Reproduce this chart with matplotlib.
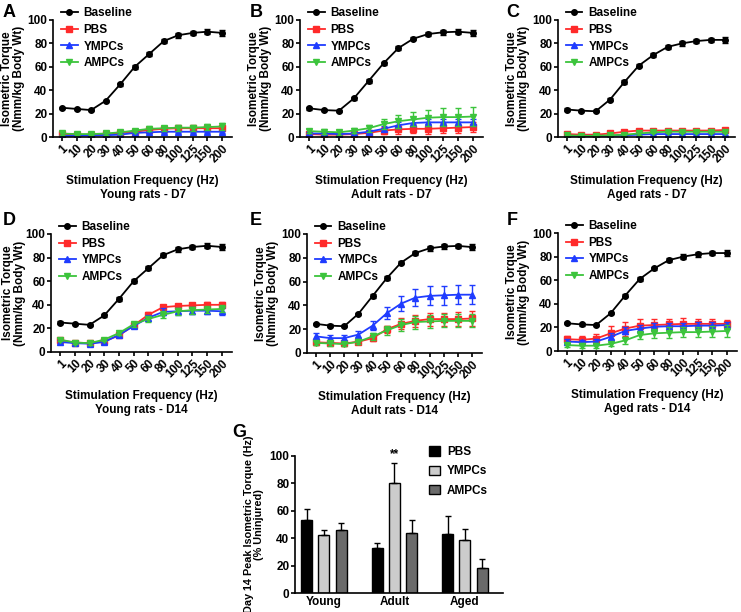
import matplotlib
matplotlib.use('Agg')
from matplotlib import pyplot as plt
import numpy as np

plt.rcParams['font.family'] = ['Liberation Sans', 'DejaVu Sans']
plt.rcParams['font.weight'] = 'bold'
plt.rcParams['axes.labelweight'] = 'bold'
plt.rcParams['font.size'] = 8.5

# Frecuencias de estimulacion (Hz)
frecuencias = ['1', '10', '20', '30', '40', '50', '60', '80', '100', '125', '150', '200']

# Curvas basales (sin lesion)
base_joven = [25, 24, 23, 31, 45, 60, 71, 82, 87, 89, 90, 89]
base_adulto = [24.5, 23, 22.5, 33, 48, 63, 76, 84, 88, 89.5, 90, 89]
base_viejo = [23.5, 22.5, 22, 32, 47, 61, 70, 77, 80, 82, 83, 83]
base_err = [1, 1, 1, 1, 1.5, 1.5, 1.5, 1.5, 2, 2, 2, 2.5]

# Panel A - jovenes D7
a_pbs = [2.5, 2, 2, 2.5, 3.5, 4.5, 6, 7, 7.5, 7.5, 7.5, 7.5]
a_pbs_err = [1, 1, 1, 1, 1, 1.5, 1.5, 2, 2, 2, 2, 2.5]
a_ympc = [1, 1, 1.5, 1.5, 2, 3.5, 4, 4.5, 4.5, 4.5, 4.5, 4.5]
a_ympc_err = [1, 1, 1, 1, 1, 1, 1, 1, 1, 1, 1, 1]
a_ampc = [3, 2.5, 2.5, 3, 4, 5.5, 7, 7.5, 8, 8, 8.5, 9]
a_ampc_err = [1, 1, 1, 1, 1.5, 1.5, 2, 2, 2.5, 2.5, 2.5, 3]

# Panel B - adultos D7
b_pbs = [2.5, 2, 2, 2.5, 3.5, 5.5, 6.5, 7, 7, 7.5, 8, 8.5]
b_pbs_err = [1, 1, 1, 1, 2, 3, 4, 4, 4.5, 4.5, 4.5, 4.5]
b_ympc = [3, 3, 2.5, 3, 4.5, 7, 10, 12, 12.5, 12.5, 12.5, 12.5]
b_ympc_err = [1, 1, 1, 1, 1.5, 2, 2.5, 3, 3, 3, 3, 3]
b_ampc = [5, 4.5, 4, 5.5, 7.5, 11, 13.5, 15, 16.5, 17, 17, 17.5]
b_ampc_err = [2, 2, 2, 2, 3, 4.5, 5.5, 6, 7, 7.5, 7.5, 8]

# Panel C - viejos D7
c_pbs = [2.5, 2, 2, 3, 4.5, 5.5, 5.5, 5.5, 5.5, 5.5, 5.5, 6]
c_pbs_err = [1, 1, 1, 1, 1, 1, 1, 1, 1, 1.5, 1.5, 1.5]
c_ympc = [1, 1, 1, 1, 1.5, 2, 2.5, 2.5, 2.5, 2.5, 2.5, 2.5]
c_ympc_err = [0.5, 0.5, 0.5, 0.5, 0.5, 1, 1, 1, 1, 1, 1, 1]
c_ampc = [1.5, 1, 1, 1.5, 2, 3, 4, 4.5, 4.5, 4.5, 4.5, 4.5]
c_ampc_err = [0.5, 0.5, 0.5, 0.5, 1, 1, 1, 1, 1, 1, 1, 1]

# Panel D - jovenes D14
d_pbs = [10, 8, 7.5, 9, 14, 22.5, 31.5, 38, 39, 39.5, 40, 40]
d_pbs_err = [1.5, 1.5, 1.5, 1.5, 1.5, 2, 2, 2, 2, 2, 2, 2]
d_ympc = [8.5, 7.5, 7, 8.5, 14.5, 22, 29, 34, 34.5, 35, 35, 34.5]
d_ympc_err = [1.5, 1.5, 1.5, 1.5, 2, 2, 2.5, 3, 3, 3, 3, 3]
d_ampc = [10.5, 8, 7.5, 10.5, 16, 23.5, 28, 31.5, 34.5, 35.5, 36, 36.5]
d_ampc_err = [1.5, 1.5, 1.5, 1.5, 2, 2, 2.5, 3, 3, 3, 3, 3]

# Panel E - adultos D14
e_pbs = [9, 8.5, 8, 9.5, 12.5, 20, 24.5, 27, 28.5, 28.5, 28.5, 29]
e_pbs_err = [2, 2, 2, 2, 2.5, 3, 4.5, 5, 5.5, 5.5, 6, 6]
e_ympc = [14, 12.5, 12.5, 15.5, 23, 33.5, 41.5, 46.5, 48, 48.5, 49, 49]
e_ympc_err = [3, 3, 3, 3, 4, 5, 6, 7, 8, 8, 8, 8]
e_ampc = [8.5, 8, 7.5, 9.5, 14, 19, 23.5, 26, 26.5, 27, 27, 27]
e_ampc_err = [2, 2, 2, 2, 3, 4, 5, 5.5, 5.5, 5.5, 5.5, 5.5]

# Panel F - viejos D14
f_pbs = [10, 9.5, 10.5, 15, 19, 21.5, 22, 22.5, 23, 23, 23, 23]
f_pbs_err = [3, 3, 3.5, 6, 6, 5.5, 5, 5, 5, 4.5, 4.5, 3]
f_ympc = [8, 7.5, 8, 12, 17, 19, 20.5, 21, 21, 21.5, 21.5, 22]
f_ympc_err = [2, 2, 2, 3, 3, 3, 3, 3, 3, 3, 3, 3]
f_ampc = [5, 4.5, 4.5, 6, 9, 13.5, 15, 15.5, 16, 16, 16.5, 17]
f_ampc_err = [2, 2, 2, 2, 3, 3.5, 4, 4.5, 4.5, 4.5, 4.5, 5]

# Panel G - pico de torque dia 14 (% sin lesion)
grupos = ['Young', 'Adult', 'Aged']
g_pbs = [53.5, 33, 43]
g_pbs_err = [7.5, 3.5, 13]
g_ympc = [42.5, 80, 38.5]
g_ympc_err = [3.5, 15, 8.5]
g_ampc = [46, 43.5, 18]
g_ampc_err = [5, 9.5, 6.5]

nombres = ['Baseline', 'PBS', 'YMPCs', 'AMPCs']
colores = ['black', '#ff2a2a', '#1f3cff', '#3cc43c']
marcadores = ['o', 's', '^', 'v']

fig = plt.figure(figsize=(7.41, 6.12), dpi=100)
W, H = 741.0, 612.0


def caja(x0, x1, y0, y1):
    # convierte pixeles a fraccion de figura
    return [x0 / W, 1 - y1 / H, (x1 - x0) / W, (y1 - y0) / H]


def letra_panel(x, y, letra):
    fig.text(x / W, 1 - y / H, letra, fontsize=13, fontweight='bold', va='top')


def panel_curvas(px, titulo, base, datos, pad_y=2):
    ax = fig.add_axes(caja(*px))
    x = np.arange(len(frecuencias))
    series = [(base, base_err)] + datos
    lineas = []
    for i, (vals, err) in enumerate(series):
        ax.errorbar(x, vals, yerr=err, fmt='none', ecolor=colores[i],
                    elinewidth=1, capsize=2, capthick=1)
        l, = ax.plot(x, vals, color=colores[i], marker=marcadores[i], ms=4,
                     lw=1.3, label=nombres[i])
        lineas.append(l)
    ax.set_xlim(-0.62, 11.69)
    ax.set_ylim(0, 100)
    ax.set_yticks([0, 20, 40, 60, 80, 100])
    ax.set_xticks(x)
    ax.set_xticklabels(frecuencias, rotation=45, ha='right', rotation_mode='anchor')
    ax.spines['top'].set_visible(False)
    ax.spines['right'].set_visible(False)
    ax.spines['left'].set_linewidth(1.2)
    ax.spines['bottom'].set_linewidth(1.2)
    ax.tick_params(width=1.2, length=3, labelsize=8.5, pad=1)
    ax.set_ylabel('Isometric Torque\n(Nmm/kg Body Wt)', labelpad=pad_y, linespacing=1.0)
    ax.set_xlabel('Stimulation Frequency (Hz)\n' + titulo, labelpad=7, linespacing=1.25)
    ax.legend(handles=lineas, loc='upper left', bbox_to_anchor=(0.045, 1.11),
              frameon=False, borderpad=0, borderaxespad=0, handlelength=1.4,
              handletextpad=0.5, labelspacing=0.4)
    return ax


panel_curvas((53, 232, 20, 137), 'Young rats - D7', base_joven,
             [(a_pbs, a_pbs_err), (a_ympc, a_ympc_err), (a_ampc, a_ampc_err)])
panel_curvas((300, 483, 20, 137), 'Adult rats - D7', base_adulto,
             [(b_pbs, b_pbs_err), (b_ympc, b_ympc_err), (b_ampc, b_ampc_err)])
panel_curvas((558, 735, 20, 137), 'Aged rats - D7', base_viejo,
             [(c_pbs, c_pbs_err), (c_ympc, c_ympc_err), (c_ampc, c_ampc_err)])
panel_curvas((51, 232, 234, 352), 'Young rats - D14', base_joven,
             [(d_pbs, d_pbs_err), (d_ympc, d_ympc_err), (d_ampc, d_ampc_err)], pad_y=0)
panel_curvas((307, 482, 234, 353), 'Adult rats - D14', base_adulto,
             [(e_pbs, e_pbs_err), (e_ympc, e_ympc_err), (e_ampc, e_ampc_err)])
panel_curvas((558, 737, 233, 351), 'Aged rats - D14', base_viejo,
             [(f_pbs, f_pbs_err), (f_ympc, f_ympc_err), (f_ampc, f_ampc_err)])

letra_panel(3, 4, 'A')
letra_panel(250, 4, 'B')
letra_panel(506, 4, 'C')
letra_panel(3, 212, 'D')
letra_panel(250, 212, 'E')
letra_panel(507, 212, 'F')
letra_panel(232, 424, 'G')

# Panel G - barras
axg = fig.add_axes(caja(295, 503, 456, 593))
xg = np.arange(len(grupos))
ancho = 0.155
desp = 0.244
barras = [(g_pbs, g_pbs_err, 'black', 'PBS'),
          (g_ympc, g_ympc_err, '#cccccc', 'YMPCs'),
          (g_ampc, g_ampc_err, '#6a6a6a', 'AMPCs')]
for i, (vals, err, col, nom) in enumerate(barras):
    pos = xg + (i - 1) * desp
    axg.bar(pos, vals, width=ancho, color=col, edgecolor='black', linewidth=1, label=nom)
    axg.errorbar(pos, vals, yerr=[np.zeros(len(vals)), err], fmt='none',
                 ecolor='black', elinewidth=1, capsize=2.5, capthick=1)
axg.text(xg[1], 97, '**', ha='center', va='bottom', fontsize=8.5, fontweight='bold')
axg.set_xlim(-0.41, 2.54)
axg.set_ylim(0, 100)
axg.set_yticks([0, 20, 40, 60, 80, 100])
axg.set_xticks(xg)
axg.set_xticklabels(grupos)
axg.spines['top'].set_visible(False)
axg.spines['right'].set_visible(False)
axg.spines['left'].set_linewidth(1.2)
axg.spines['bottom'].set_linewidth(1.2)
axg.tick_params(axis='y', width=1.2, length=3, labelsize=8.5, pad=1)
axg.tick_params(axis='x', length=0, labelsize=8.5, pad=2)
axg.set_ylabel('Day 14 Peak Isometric Torque (Hz)\n(% Uninjured)', fontsize=7.8,
               labelpad=4, linespacing=1.05)
axg.legend(loc='upper left', bbox_to_anchor=(0.645, 1.07), frameon=False,
           borderpad=0, borderaxespad=0, handlelength=0.9,
           handleheight=0.9, handletextpad=0.6, labelspacing=0.6)

plt.savefig('out.png', dpi=100)
